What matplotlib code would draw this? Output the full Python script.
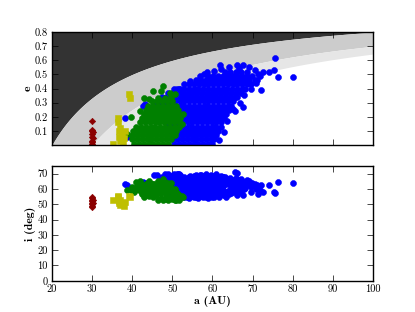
import matplotlib
matplotlib.use('Agg')
import matplotlib.pyplot as plt
import numpy as np

# --- 資料：每個天體的 (a, e, i) ---

# 藍色族群 (一列一列，e 相同)
blue_a = [
    50.5, 51.7, 52.9, 54.1, 55.3, 56.5, 57.7, 58.9, 60.0,
    50.0, 51.2, 52.4, 53.6, 54.8, 56.0, 57.2, 58.4, 59.6, 60.5,
    50.0, 51.2, 52.4, 53.6, 54.8, 56.0, 57.2, 58.4, 59.6, 60.8,
    49.5, 50.7, 51.9, 53.1, 54.3, 55.5, 56.7, 57.9, 59.1, 60.3, 61.4,
    49.0, 50.2, 51.4, 52.6, 53.8, 55.0, 56.2, 57.4, 58.6, 59.8, 61.0, 62.0,
    49.0, 50.2, 51.4, 52.6, 53.8, 55.0, 56.2, 57.4, 58.6, 59.8, 61.0, 62.2,
    48.5, 49.7, 50.9, 52.1, 53.3, 54.5, 55.7, 56.9, 58.1, 59.3, 60.5, 61.7, 62.8,
    48.0, 49.2, 50.4, 51.6, 52.8, 54.0, 55.2, 56.4, 57.6, 58.8, 60.0, 61.2, 62.4, 63.4,
    47.5, 48.7, 49.9, 51.1, 52.3, 53.5, 54.7, 55.9, 57.1, 58.3, 59.5, 60.7, 61.9, 63.1, 64.0,
    47.0, 48.2, 49.4, 50.6, 51.8, 53.0, 54.2, 55.4, 56.6, 57.8, 59.0, 60.2, 61.4, 62.6, 63.8, 64.6,
    47.0, 48.2, 49.4, 50.6, 51.8, 53.0, 54.2, 55.4, 56.6, 57.8, 59.0, 60.2, 61.4, 62.6, 63.8, 65.0,
    47.5, 48.7, 49.9, 51.1, 52.3, 53.5, 54.7, 55.9, 57.1, 58.3, 59.5, 60.7, 61.9, 63.1, 64.3, 65.5, 66.2,
    49.0, 50.2, 51.4, 52.6, 53.8, 55.0, 56.2, 57.4, 58.6, 59.8, 61.0, 62.2, 63.4, 64.6, 65.8, 67.0,
    50.5, 51.7, 52.9, 54.1, 55.3, 56.5, 57.7, 58.9, 60.1, 61.3, 62.5, 63.7, 64.9, 66.1, 67.3, 68.2,
    53.0, 54.2, 55.4, 56.6, 57.8, 59.0, 60.2, 61.4, 62.6, 63.8, 65.0, 66.2, 67.4, 68.6, 69.6,
    56.0, 57.2, 58.4, 59.6, 60.8, 62.0, 63.2, 64.4, 65.6, 66.8, 68.0, 69.2, 70.6,
    59.0, 60.2, 61.4, 62.6, 63.8, 65.0, 66.2, 67.4, 68.6, 69.8,
    63.0, 64.4, 65.8, 67.2, 68.6,
    # 上緣與右緣的參差點
    52.0, 54.5, 56.8, 58.0, 60.5, 62.0, 64.0, 66.5, 69.0, 70.5,
    61.5, 62.8, 63.6, 65.2, 66.8, 67.8, 69.6, 70.8, 71.8,
    # 零散點
    80.0, 76.4, 75.6, 75.3, 74.0, 72.1, 72.6, 71.0, 71.4, 67.7, 65.6, 66.0,
    61.9, 67.5, 58.7, 38.2, 38.6, 42.8, 43.3, 46.1, 48.2, 51.2, 45.5,
]
blue_e = (
    [0.01] * 9 + [0.04] * 10 + [0.07] * 10 + [0.10] * 11 + [0.13] * 12
    + [0.16] * 12 + [0.19] * 13 + [0.22] * 14 + [0.25] * 15 + [0.28] * 16
    + [0.31] * 16 + [0.34] * 17 + [0.37] * 16 + [0.40] * 16 + [0.43] * 15
    + [0.46] * 13 + [0.49] * 10 + [0.52] * 5
    + [0.40, 0.455, 0.49, 0.505, 0.525, 0.54, 0.55, 0.545, 0.55, 0.535]
    + [0.035, 0.09, 0.17, 0.255, 0.30, 0.355, 0.40, 0.44, 0.49]
    + [0.48, 0.48, 0.62, 0.53, 0.52, 0.39, 0.52, 0.46, 0.50, 0.27, 0.24, 0.57,
       0.57, 0.57, 0.52, 0.19, 0.06, 0.28, 0.29, 0.30, 0.33, 0.40, 0.29]
)
blue_i = [
    56, 55, 54.5, 54, 54.5, 54, 55, 54, 54.5,
    57, 56.5, 55.5, 55, 55.5, 55, 55.5, 55, 55.5, 55,
    58, 57.5, 56.5, 56, 56.5, 56, 56.5, 56, 56.5, 56,
    59, 58.5, 57.5, 57, 57.5, 57, 57.5, 57, 57.5, 57, 56,
    60, 59.5, 58.5, 58, 58.5, 58, 58.5, 58, 58.5, 58, 57.5, 57,
    61, 60.5, 59.5, 59, 59.5, 59, 59.5, 59, 59.5, 59, 58.5, 58,
    63, 63.5, 62.5, 60, 60.5, 60, 60.5, 60, 60.5, 60, 59.5, 59, 58.5,
    64, 64.5, 63.5, 63, 61, 61.5, 61, 61.5, 61, 61.5, 61, 60.5, 60, 55,
    65, 65.5, 65, 64.5, 62, 62.5, 62, 62.5, 62, 62.5, 62, 61.5, 61, 56, 56.5,
    66, 66.5, 66, 65.5, 65.5, 63, 63.5, 63, 63.5, 63, 63.5, 63, 62.5, 62, 57.5, 57.5,
    67, 67.5, 67, 67, 66.5, 64, 64.5, 64, 64.5, 64, 64.5, 64, 63.5, 63, 58.5, 58.5,
    68, 68.5, 68, 68, 65, 65.5, 65, 65.5, 65, 65.5, 65, 64.5, 64, 63.5, 59.5, 59.5, 56,
    69.5, 69, 69.5, 66, 66.5, 66, 66.5, 66, 66.5, 66, 65.5, 65, 64.5, 61, 61, 58,
    70, 69.5, 67, 67, 67.5, 67, 67.5, 67, 67.5, 67, 66.5, 66, 62, 60, 60, 60.5,
    68, 68, 68.5, 68, 68.5, 68, 68.5, 68, 67.5, 63, 63, 62, 62, 62.5, 58,
    69, 69, 69.5, 69, 69.5, 68.5, 68, 64.5, 64.5, 64, 64, 63.5, 62,
    68.5, 68, 68, 67.5, 66, 66, 66, 65.5, 65, 64,
    67, 67, 67, 66.5, 66,
    69.0, 68.5, 69.0, 68.0, 67.5, 67.0, 66.5, 66.0, 65.0, 63.0,
    55.0, 56.0, 57.0, 58.0, 59.0, 60.0, 61.0, 60.0, 59.5,
    64.1, 64.5, 57.5, 58.0, 62.4, 62.4, 57.7, 62.4, 57.0, 56.3, 71.0, 70.5,
    66.0, 64.0, 65.0, 63.0, 62.3, 64.5, 64.0, 68.9, 70.0, 69.5, 69.0,
]

# 綠色族群
green_a = [
    40.5, 41.7, 42.9, 44.1, 45.3, 46.5, 47.7, 48.9,
    40.0, 41.2, 42.4, 43.6, 44.8, 46.0, 47.2, 48.4, 49.6,
    40.0, 41.2, 42.4, 43.6, 44.8, 46.0, 47.2, 48.4, 49.6, 50.6,
    40.3, 41.5, 42.7, 43.9, 45.1, 46.3, 47.5, 48.7, 49.9, 51.0,
    41.0, 42.2, 43.4, 44.6, 45.8, 47.0, 48.2, 49.4, 50.6, 51.6,
    42.0, 43.2, 44.4, 45.6, 46.8, 48.0, 49.2, 50.4, 51.6,
    42.5, 43.7, 44.9, 46.1, 47.3, 48.5, 49.7, 50.9, 51.9,
    43.0, 44.2, 45.4, 46.6, 47.8, 49.0, 50.2, 51.4,
    43.5, 44.7, 45.9, 47.1, 48.3, 49.5, 50.7, 51.5,
    44.0, 45.2, 46.4, 47.6, 48.8, 50.0, 51.0,
    45.0, 46.2, 47.4, 48.6, 49.8,
    # 零散點
    47.7, 47.3, 45.3, 50.7, 49.4, 39.6, 38.7, 44.4, 43.0, 49.6,
    52.3, 52.6, 44.2, 46.5, 48.2, 42.0,
]
green_e = (
    [0.01] * 8 + [0.04] * 9 + [0.07] * 10 + [0.10] * 10 + [0.13] * 10
    + [0.16] * 9 + [0.19] * 9 + [0.22] * 8 + [0.25] * 8 + [0.28] * 7 + [0.31] * 5
    + [0.42, 0.38, 0.38, 0.36, 0.37, 0.20, 0.08, 0.005, 0.33, 0.34]
    + [0.15, 0.22, 0.325, 0.335, 0.33, 0.24]
)
green_i = [
    58, 59, 55, 55.5, 55, 53, 52.5, 53,
    59.5, 60, 56.5, 56, 56.5, 56, 54, 53.5, 54,
    61, 62, 57.5, 57, 57.5, 57, 57.5, 56, 55, 53,
    60, 63, 58.5, 58, 58.5, 58, 58.5, 58, 53.5, 52.5,
    64.5, 59.5, 59, 59.5, 59, 59.5, 59, 58.5, 54, 53,
    64, 60.5, 60, 60.5, 60, 60.5, 60, 55, 54,
    61.5, 61, 61.5, 61, 61.5, 61, 60.5, 56, 55,
    62.5, 62, 62.5, 62, 62.5, 62, 57, 56,
    63, 63.5, 63, 63.5, 63, 63, 58, 57,
    64, 63.5, 64, 64.5, 64, 59, 58,
    62, 61.5, 62, 61.5, 60,
    66.5, 62, 63, 60, 61, 59, 59.5, 56, 62.5, 64,
    55.5, 54.5, 65.0, 65.5, 64.5, 65.0,
]

# 黃色方塊
yellow_a = [35.1, 36.4, 36.5, 36.6, 36.8, 37.0, 37.0, 37.5, 37.6, 38.0, 38.1, 39.1, 39.5]
yellow_e = [0.01, 0.19, 0.16, 0.10, 0.06, 0.03, 0.12, 0.08, 0.02, 0.05, 0.10, 0.36, 0.33]
yellow_i = [53.0, 55.5, 54.5, 52.0, 50.5, 49.5, 53.0, 51.0, 50.0, 49.0, 51.5, 55.5, 55.0]

# 暗紅色菱形
red_a = [30.1, 30.1, 30.0, 30.2, 30.1, 30.0, 30.2, 30.1, 30.0, 30.1]
red_e = [0.17, 0.11, 0.10, 0.09, 0.08, 0.06, 0.05, 0.03, 0.02, 0.01]
red_i = [55.0, 54.0, 53.0, 52.5, 52.0, 51.0, 50.5, 50.0, 49.0, 48.0]

# 近日點 q 的分界 (AU)
q_dark, q_mid, q_light = 20.0, 30.0, 35.5

x_ticks = [20, 30, 40, 50, 60, 70, 80, 90, 100]
x_labels = ['20', '30', '40', '50', '60', '70', '80', '90', '100']
e_ticks = [0.1, 0.2, 0.3, 0.4, 0.5, 0.6, 0.7, 0.8]
e_labels = ['0.1', '0.2', '0.3', '0.4', '0.5', '0.6', '0.7', '0.8']
i_ticks = [0, 10, 20, 30, 40, 50, 60, 70]
i_labels = ['0', '10', '20', '30', '40', '50', '60', '70']

TICK_FONT = dict(family='cmr10', size=7.5)
LABEL_FONT = dict(family='cmb10', size=8.5)

fig = plt.figure(figsize=(4.15, 3.12), dpi=100)
ax1 = fig.add_axes([0.125, 0.535, 0.774, 0.362])
ax2 = fig.add_axes([0.125, 0.100, 0.774, 0.368])

# --- 上圖：e vs a 與灰階區域 ---
a_grid = np.linspace(20, 100, 500)
e_dark = np.clip(1 - q_dark / a_grid, 0, None)
e_mid = np.clip(1 - q_mid / a_grid, 0, None)
e_light = np.clip(1 - q_light / a_grid, 0, None)
ax1.fill_between(a_grid, e_dark, 1.0, color='0.2', lw=0)
ax1.fill_between(a_grid, e_mid, e_dark, color='0.8', lw=0)
ax1.fill_between(a_grid, e_light, e_mid, color='0.9', lw=0)

ms = 4.3
ax1.plot(blue_a, blue_e, 'o', color='b', mec='b', ms=ms, mew=0.4)
ax1.plot(green_a, green_e, 'o', color='g', mec='g', ms=ms, mew=0.4)
ax1.plot(yellow_a, yellow_e, 's', color='y', mec='y', ms=4.0, mew=0.4)
ax1.plot(red_a, red_e, 'D', color='darkred', mec='darkred', ms=3.3, mew=0.4)

ax1.set_xlim(20, 100)
ax1.set_ylim(0, 0.8)
ax1.set_xticks(x_ticks)
ax1.set_xticklabels([])
ax1.set_yticks(e_ticks)
ax1.set_yticklabels(e_labels, **TICK_FONT)
ax1.set_ylabel('e', labelpad=1, **LABEL_FONT)

# --- 下圖：i vs a ---
ax2.plot(blue_a, blue_i, 'o', color='b', mec='b', ms=ms, mew=0.4)
ax2.plot(green_a, green_i, 'o', color='g', mec='g', ms=ms, mew=0.4)
ax2.plot(yellow_a, yellow_i, 's', color='y', mec='y', ms=4.0, mew=0.4)
ax2.plot(red_a, red_i, 'D', color='darkred', mec='darkred', ms=3.3, mew=0.4)

ax2.set_xlim(20, 100)
ax2.set_ylim(0, 75)
ax2.set_xticks(x_ticks)
ax2.set_xticklabels(x_labels, **TICK_FONT)
ax2.set_yticks(i_ticks)
ax2.set_yticklabels(i_labels, **TICK_FONT)
ax2.set_xlabel('a (AU)', labelpad=1, **LABEL_FONT)
ax2.set_ylabel('i (deg)', labelpad=1, **LABEL_FONT)

for ax in (ax1, ax2):
    ax.tick_params(direction='in', top=True, right=True, length=4, width=0.5, pad=3)
    for sp in ax.spines.values():
        sp.set_linewidth(1.0)

fig.savefig('out.png', dpi=100)
